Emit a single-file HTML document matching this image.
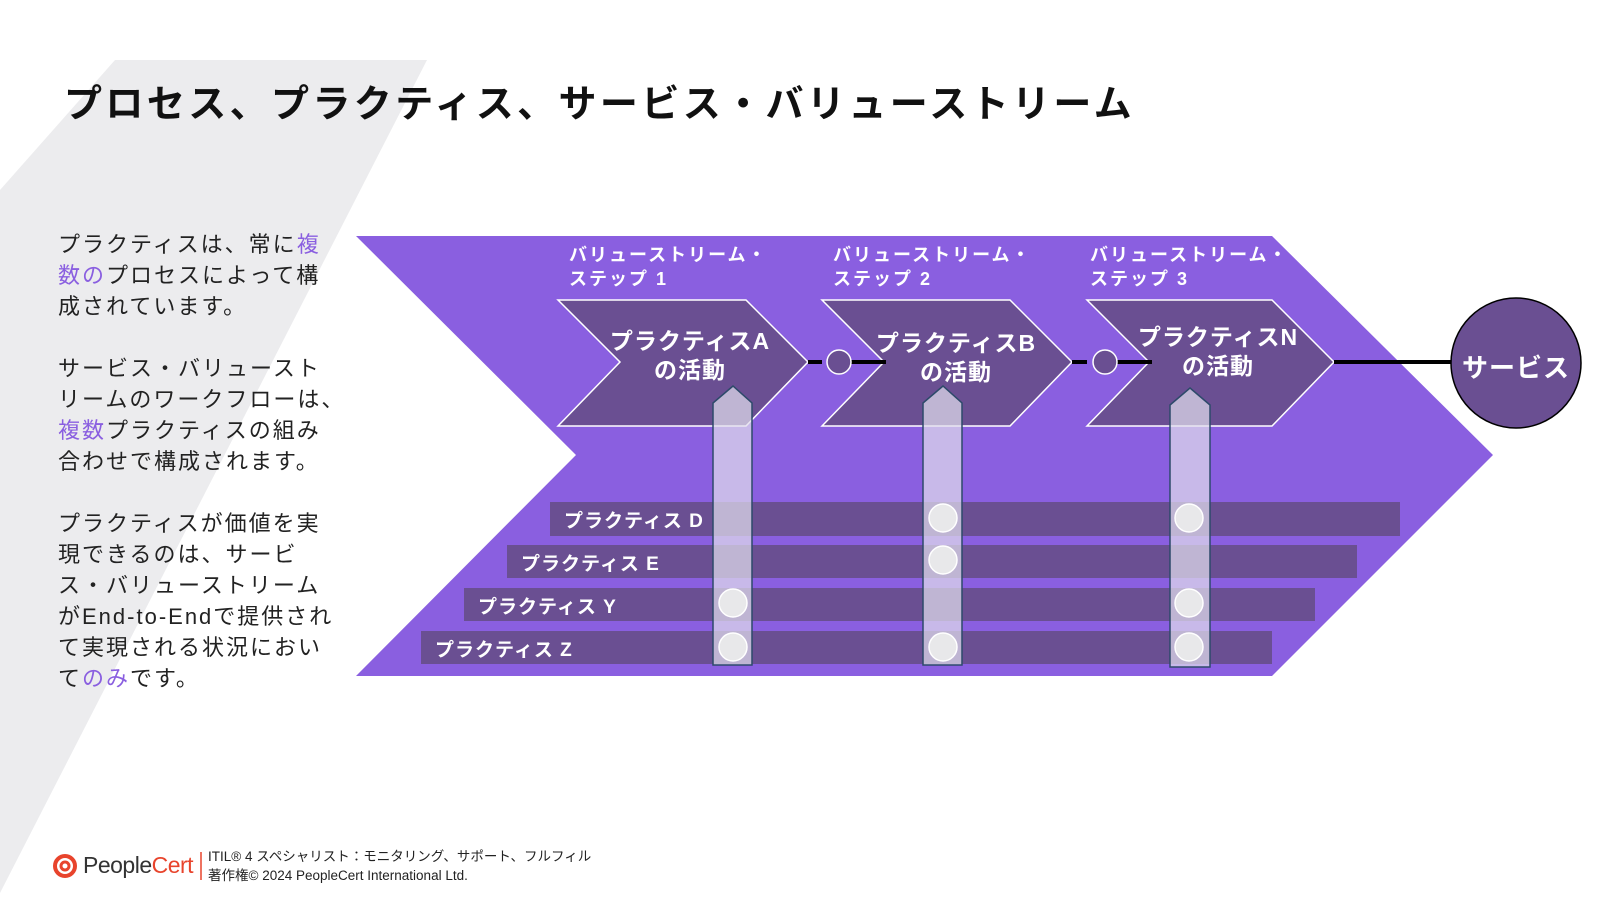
<!DOCTYPE html>
<html><head><meta charset="utf-8"><style>
*{margin:0;padding:0}
body{width:1609px;height:907px;background:#fff;position:relative;overflow:hidden;font-family:"Liberation Sans","Noto Sans CJK JP",sans-serif}
.t{position:absolute;white-space:nowrap}
.p{color:#8a5fe0}
</style></head><body>
<svg width="1609" height="907" style="position:absolute;left:0;top:0">
<polygon points="115,60 427,60 0,893 0,190" fill="#ececee"/>
<polygon points="356,236 1272,236 1493,455 1272,676 356,676 576,455" fill="#8a5fe0"/>
<g fill="#6a4f92" stroke="#fff" stroke-width="1.5">
<polygon points="558,300 746,300 808,362 746,426 558,426 620,362"/>
<polygon points="822,300 1010,300 1072,362 1010,426 822,426 884,362"/>
<polygon points="1087,300 1272,300 1334,362 1272,426 1087,426 1149,362"/>
</g>
<g stroke="#000" stroke-width="4">
<line x1="808" y1="362" x2="822" y2="362"/>
<line x1="851" y1="362" x2="886" y2="362"/>
<line x1="1072" y1="362" x2="1087" y2="362"/>
<line x1="1117" y1="362" x2="1152" y2="362"/>
<line x1="1334" y1="362" x2="1452" y2="362"/>
</g>
<circle cx="839" cy="362" r="12" fill="#6a4f92" stroke="#fff" stroke-width="1.5"/>
<circle cx="1105" cy="362" r="12" fill="#6a4f92" stroke="#fff" stroke-width="1.5"/>
<circle cx="1516" cy="363" r="65" fill="#6a4f92" stroke="#000" stroke-width="1.5"/>
<g fill="#6a4f92">
<rect x="550" y="502" width="850" height="34"/>
<rect x="507" y="545" width="850" height="33"/>
<rect x="464" y="588" width="851" height="33"/>
<rect x="421" y="631" width="851" height="33"/>
</g>
<g fill="rgba(225,220,235,0.72)" stroke="#2d4a6a" stroke-width="1.5">
<polygon points="713,403 733,386 752,403 752,665 713,665"/>
<polygon points="923,403 943,386 962,403 962,665 923,665"/>
<polygon points="1170,405 1190,388 1210,405 1210,667 1170,667"/>
</g>
<g fill="#e8e8ea" stroke="#fff" stroke-width="1.5">
<circle cx="733" cy="603" r="14"/><circle cx="733" cy="647" r="14"/>
<circle cx="943" cy="518" r="14"/><circle cx="943" cy="560" r="14"/><circle cx="943" cy="647" r="14"/>
<circle cx="1189" cy="518" r="14"/><circle cx="1189" cy="603" r="14"/><circle cx="1189" cy="647" r="14"/>
</g>
<circle cx="65" cy="866" r="10" fill="none" stroke="#e8442c" stroke-width="4"/><circle cx="65" cy="866" r="4" fill="none" stroke="#e8442c" stroke-width="3"/>
<line x1="201" y1="852" x2="201" y2="880" stroke="#e8442c" stroke-width="1.5"/>
</svg>
<div class="t" style="left:64px;top:73px;font-size:38px;font-weight:bold;color:#111;letter-spacing:3.4px">プロセス、プラクティス、サービス・バリューストリーム</div>
<div class="t" style="left:58px;top:229px;font-size:22px;line-height:31px;color:#222;letter-spacing:2px">プラクティスは、常に<span class="p">複</span><br><span class="p">数の</span>プロセスによって構<br>成されています。<br><br>サービス・バリュースト<br>リームのワークフローは、<br><span class="p">複数</span>プラクティスの組み<br>合わせで構成されます。<br><br>プラクティスが価値を実<br>現できるのは、サービ<br>ス・バリューストリーム<br>がEnd-to-Endで提供され<br>て実現される状況におい<br>て<span class="p">のみ</span>です。</div>
<div class="t" style="left:569px;top:243px;font-size:18px;line-height:24px;font-weight:bold;color:#fff;letter-spacing:2px">バリューストリーム・<br>ステップ 1</div>
<div class="t" style="left:833px;top:243px;font-size:18px;line-height:24px;font-weight:bold;color:#fff;letter-spacing:2px">バリューストリーム・<br>ステップ 2</div>
<div class="t" style="left:1090px;top:243px;font-size:18px;line-height:24px;font-weight:bold;color:#fff;letter-spacing:2px">バリューストリーム・<br>ステップ 3</div>
<div class="t" style="left:590px;top:327px;width:200px;text-align:center;font-size:23px;line-height:29px;font-weight:bold;color:#fff;letter-spacing:1px">プラクティスA<br>の活動</div>
<div class="t" style="left:856px;top:329px;width:200px;text-align:center;font-size:23px;line-height:29px;font-weight:bold;color:#fff;letter-spacing:1px">プラクティスB<br>の活動</div>
<div class="t" style="left:1118px;top:323px;width:200px;text-align:center;font-size:23px;line-height:29px;font-weight:bold;color:#fff;letter-spacing:1px">プラクティスN<br>の活動</div>
<div class="t" style="left:1451px;top:348px;width:130px;text-align:center;font-size:26px;font-weight:bold;color:#fff;letter-spacing:1px">サービス</div>
<div class="t" style="left:564px;top:506px;font-size:19px;font-weight:bold;color:#fff;letter-spacing:1px">プラクティス D</div>
<div class="t" style="left:521px;top:549px;font-size:19px;font-weight:bold;color:#fff;letter-spacing:1px">プラクティス E</div>
<div class="t" style="left:478px;top:592px;font-size:19px;font-weight:bold;color:#fff;letter-spacing:1px">プラクティス Y</div>
<div class="t" style="left:435px;top:635px;font-size:19px;font-weight:bold;color:#fff;letter-spacing:1px">プラクティス Z</div>
<div class="t" style="left:83px;top:852px;font-size:23px;color:#333;letter-spacing:-0.5px">People<span style="color:#e8442c">Cert</span></div>
<div class="t" style="left:208px;top:847px;font-size:13.5px;line-height:19px;color:#222">ITIL® 4 スペシャリスト：モニタリング、サポート、フルフィル<br>著作権© 2024 PeopleCert International Ltd.</div>
</body></html>
